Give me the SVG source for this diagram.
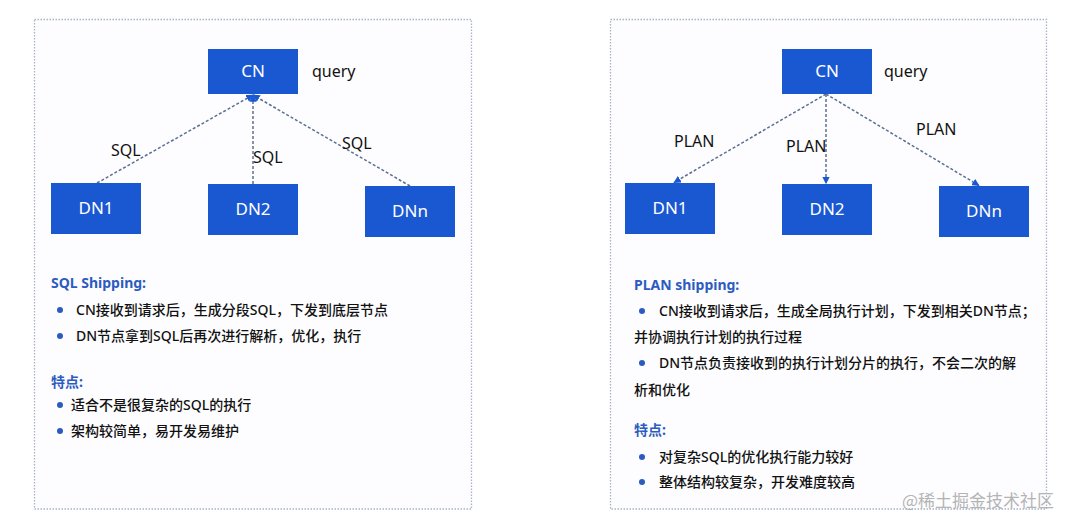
<svg xmlns="http://www.w3.org/2000/svg" width="1080" height="531" viewBox="0 0 1080 531">
<style>
.panel{fill:#fdfdff;stroke:#a9b3c9;stroke-width:1.3;stroke-dasharray:1.5 1.5}
.node{fill:#1a58d2}
.nl{font-family:"Noto Sans","Noto Sans CJK SC",sans-serif;font-size:17px;fill:#ffffff;text-anchor:middle}
.lbl{font-family:"Noto Sans","Noto Sans CJK SC",sans-serif;font-size:16px;fill:#111111}
.conn{stroke:#5b6f93;stroke-width:1.5;stroke-dasharray:3 2;fill:none}
.h{font-family:"Noto Sans","Noto Sans CJK SC",sans-serif;font-size:14px;font-weight:bold;fill:#2c5cc0}
.t{font-family:"Noto Sans","Noto Sans CJK SC",sans-serif;font-size:14px;font-weight:500;fill:#111111}
.dot{fill:#2a5bc2}
.wm{font-family:"Noto Sans CJK SC",sans-serif;font-size:17px;fill:#b4b4b4}
</style>
<defs>
<marker id="ah" viewBox="0 0 10 10" refX="9" refY="5" markerWidth="5" markerHeight="5" orient="auto-start-reverse">
<path d="M0,0 L10,5 L0,10 z" fill="#1a58d2"/>
</marker>
</defs>
<rect width="1080" height="531" fill="#ffffff"/>
<rect class="panel" x="34.5" y="19.5" width="437" height="489.5"/>
<rect class="panel" x="610.5" y="19.5" width="436" height="489.5"/>

<g id="connectors">
<line class="conn" x1="97" y1="183" x2="253" y2="95" marker-end="url(#ah)"/>
<line class="conn" x1="253" y1="184" x2="253" y2="95" marker-end="url(#ah)"/>
<line class="conn" x1="410" y1="186" x2="253" y2="95" marker-end="url(#ah)"/>
<line class="conn" x1="826" y1="94" x2="674" y2="182.5" marker-end="url(#ah)"/>
<line class="conn" x1="826" y1="94" x2="826" y2="183.5" marker-end="url(#ah)"/>
<line class="conn" x1="826" y1="94" x2="979" y2="185.5" marker-end="url(#ah)"/>
<text class="lbl" x="111" y="156">SQL</text>
<text class="lbl" x="253" y="163">SQL</text>
<text class="lbl" x="342" y="149">SQL</text>
<text class="lbl" x="674" y="147">PLAN</text>
<text class="lbl" x="786" y="152">PLAN</text>
<text class="lbl" x="916" y="135">PLAN</text>
</g>

<g id="cn-left"><rect class="node" x="208" y="49" width="90" height="45"/><text class="nl" x="253" y="77">CN</text><text class="lbl" x="312" y="77">query</text></g>
<g id="dn1-left"><rect class="node" x="51" y="183" width="90" height="51"/><text class="nl" x="96" y="214">DN1</text></g>
<g id="dn2-left"><rect class="node" x="208" y="184" width="90" height="51"/><text class="nl" x="253" y="215">DN2</text></g>
<g id="dnn-left"><rect class="node" x="365" y="186" width="90" height="51"/><text class="nl" x="410" y="217">DNn</text></g>

<g id="cn-right"><rect class="node" x="782" y="49" width="90" height="45"/><text class="nl" x="827" y="77">CN</text><text class="lbl" x="884" y="77">query</text></g>
<g id="dn1-right"><rect class="node" x="625" y="183" width="90" height="51"/><text class="nl" x="670" y="214">DN1</text></g>
<g id="dn2-right"><rect class="node" x="782" y="184" width="90" height="51"/><text class="nl" x="827" y="215">DN2</text></g>
<g id="dnn-right"><rect class="node" x="939" y="186" width="90" height="51"/><text class="nl" x="984" y="217">DNn</text></g>

<g id="text-left">
<text class="h" x="51" y="288">SQL Shipping:</text>
<circle class="dot" cx="60" cy="310" r="3"/>
<text class="t" x="76" y="315">CN接收到请求后，生成分段SQL，下发到底层节点</text>
<circle class="dot" cx="60" cy="336" r="3"/>
<text class="t" x="76" y="341">DN节点拿到SQL后再次进行解析，优化，执行</text>
<text class="h" x="51" y="387">特点:</text>
<circle class="dot" cx="60" cy="405" r="3"/>
<text class="t" x="71" y="410">适合不是很复杂的SQL的执行</text>
<circle class="dot" cx="60" cy="431" r="3"/>
<text class="t" x="71" y="436">架构较简单，易开发易维护</text>
</g>

<g id="text-right">
<text class="h" x="634" y="290">PLAN shipping:</text>
<circle class="dot" cx="642" cy="311" r="3"/>
<text class="t" x="659" y="316">CN接收到请求后，生成全局执行计划，下发到相关DN节点；</text>
<text class="t" x="634" y="342">并协调执行计划的执行过程</text>
<circle class="dot" cx="642" cy="363" r="3"/>
<text class="t" x="659" y="368">DN节点负责接收到的执行计划分片的执行，不会二次的解</text>
<text class="t" x="634" y="395">析和优化</text>
<text class="h" x="634" y="435">特点:</text>
<circle class="dot" cx="642" cy="457" r="3"/>
<text class="t" x="659" y="462">对复杂SQL的优化执行能力较好</text>
<circle class="dot" cx="642" cy="482" r="3"/>
<text class="t" x="659" y="487">整体结构较复杂，开发难度较高</text>
</g>

<text class="wm" x="902" y="507">@稀土掘金技术社区</text>
</svg>
